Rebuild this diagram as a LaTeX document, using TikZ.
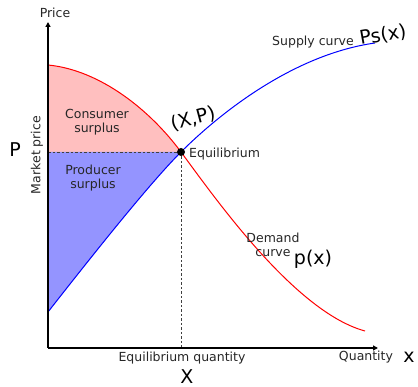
\documentclass[tikz,border=0pt]{standalone}
\usepackage{fontspec}
\setmainfont{DejaVu Sans}
\usetikzlibrary{arrows.meta}

\begin{document}
\begin{tikzpicture}[x=1pt, y=-1pt,
		lbl/.style={font=\fontsize{12.5}{14.5}\selectfont, text=black!85, align=center, inner sep=0},
		hand/.style={font=\fontsize{19}{19}\selectfont, text=black, inner sep=0},
		axis/.style={-{Triangle[length=5pt, width=5pt]}, line width=1.4pt},
		guide/.style={dashed, dash pattern=on 2.5pt off 2pt, line width=0.9pt, black!75},
		curve/.style={line width=1pt}
	]
	\useasboundingbox (0,0) rectangle (418,387);

	\coordinate (o) at (48,348);
	\coordinate (ytop) at (48,22);
	\coordinate (xend) at (378,348);
	\coordinate (pm) at (48,152);
	\coordinate (xq) at (181,348);
	\coordinate (dstart) at (48,65);
	\coordinate (dend) at (365,331);
	\coordinate (sstart) at (48,312);
	\coordinate (send) at (375,43);
	\coordinate (eq) at (181,152);

	% surplus areas
	\fill[red!25] (pm) -- (dstart) .. controls (100,70) and (150,110) .. (eq) -- cycle;
	\fill[blue!42] (pm) -- (eq) .. controls (150,183) and (95,252) .. (sstart) -- cycle;

	% curves
	\draw[curve, red] (dstart) .. controls (100,70) and (150,110) .. (eq)
		.. controls (215,198) and (295,312) .. (dend);
	\draw[curve, blue] (sstart) .. controls (95,252) and (150,183) .. (eq)
		.. controls (215,118) and (290,55) .. (send);

	\draw[guide] (pm) -- (eq);
	\draw[guide] (eq) -- (xq);

	\draw[axis] (o) -- (ytop);
	\draw[axis] (o) -- (xend);

	\fill (eq) circle (4pt);

	\node[lbl] (price) at (55,13) {Price};
	\node[lbl] (qty) at (366,357) {Quantity};
	\node[lbl] (eqq) at (182,358) {Equilibrium quantity};
	\node[lbl, rotate=90] (mprice) at (37,155) {Market price};
	\node[lbl] (cons) at (97,122) {Consumer\\surplus};
	\node[lbl] (prod) at (93,178) {Producer\\surplus};
	\node[lbl, anchor=west] (eqlbl) at (189,154) {Equilibrium};
	\node[lbl] (supply) at (313,42) {Supply curve};
	\node[lbl] (demand) at (273,245) {Demand\\curve};

	\node[hand] (hx) at (409,357) {x};
	\node[hand] (hX) at (187,377) {X};
	\node[hand] (hP) at (15,150) {P};
	\node[hand, rotate=15] (hXP) at (193,119) {(X,P)};
	\node[hand, rotate=10] (hps) at (383,35) {Ps(x)};
	\node[hand] (hpx) at (313,259) {p(x)};
\end{tikzpicture}
\end{document}
